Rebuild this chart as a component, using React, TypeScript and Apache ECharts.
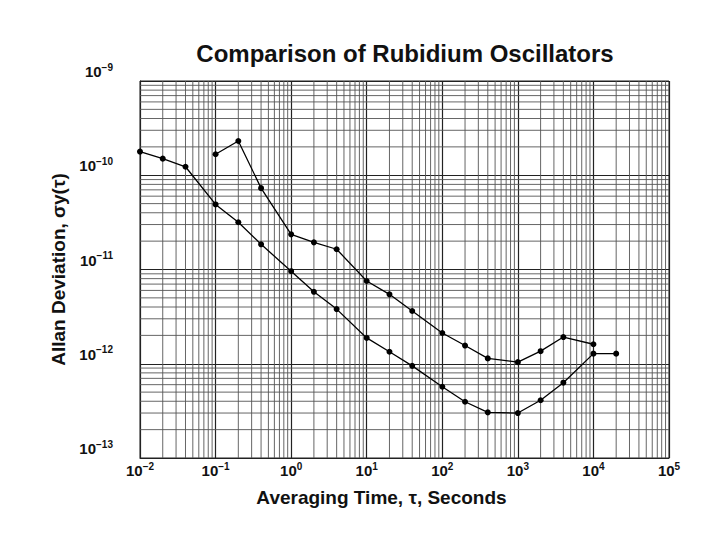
import { useEffect, useRef } from 'react';
import * as echarts from 'echarts';

// averaging time tau (s) and Allan deviation
const tauUpper = [0.1, 0.2, 0.4, 1, 2, 4, 10, 20, 40, 100, 200, 400, 1000, 2000, 4000, 10000];
const sigmaUpper = [
  1.67e-10, 2.31e-10, 7.3e-11, 2.36e-11, 1.94e-11, 1.64e-11, 7.55e-12, 5.45e-12,
  3.63e-12, 2.12e-12, 1.56e-12, 1.14e-12, 1.04e-12, 1.36e-12, 1.92e-12, 1.61e-12,
];
const tauLower = [
  0.01, 0.02, 0.04, 0.1, 0.2, 0.4, 1, 2, 4, 10, 20, 40, 100, 200, 400, 1000, 2000, 4000, 10000, 20000,
];
const sigmaLower = [
  1.78e-10, 1.5e-10, 1.23e-10, 4.9e-11, 3.17e-11, 1.85e-11, 9.6e-12, 5.8e-12, 3.8e-12, 1.88e-12,
  1.34e-12, 9.5e-13, 5.7e-13, 3.95e-13, 3.05e-13, 3.0e-13, 4.1e-13, 6.3e-13, 1.28e-12, 1.28e-12,
];

const X_MIN = 1e-2;
const X_MAX = 1e5;
const Y_MIN = 1e-13;
const Y_MAX = 1e-9;
const xDecades = [-2, -1, 0, 1, 2, 3, 4];
const yDecades = [-13, -12, -11, -10];
const minorSteps = [2, 3, 4, 5, 6, 7, 8, 9];

function powLabel(v: number) {
  const e = Math.round(Math.log10(v));
  return '{b|10}{s|' + String(e).replace('-', '−') + '}';
}

export default function App() {
  const chartRef = useRef<HTMLDivElement>(null);

  useEffect(() => {
    if (!chartRef.current) return;
    document.body.style.margin = '0';
    const chart = echarts.init(chartRef.current, null, { renderer: 'svg' });

    const font = '"Liberation Sans", Arial, sans-serif';

    // graph-paper lines at 2..9 of every decade: [orientation, value]
    const paper: [number, number][] = [];
    xDecades.forEach((d) => minorSteps.forEach((m) => paper.push([0, m * Math.pow(10, d)])));
    yDecades.forEach((d) => minorSteps.forEach((m) => paper.push([1, m * Math.pow(10, d)])));

    const rich = {
      b: { fontFamily: font, fontSize: 15, fontWeight: 'bold' as const, color: '#111' },
      s: {
        fontFamily: font,
        fontSize: 10,
        fontWeight: 'bold' as const,
        color: '#111',
        padding: [0, 0, 9, 0],
      },
    };

    const option: echarts.EChartsOption = {
      animation: false,
      backgroundColor: '#fff',
      title: {
        text: 'Comparison of Rubidium Oscillators',
        left: 400,
        top: 36,
        textAlign: 'center',
        textStyle: { fontFamily: font, fontSize: 24, fontWeight: 'bold', color: '#111' },
      },
      grid: {
        left: 140,
        right: 51,
        top: 81,
        bottom: 82,
        show: true,
        borderColor: '#222',
        borderWidth: 1,
      },
      xAxis: {
        type: 'log',
        logBase: 10,
        min: X_MIN,
        max: X_MAX,
        splitNumber: 7,
        name: 'Averaging Time, τ, Seconds',
        nameLocation: 'middle',
        nameGap: 30,
        nameTextStyle: {
          fontFamily: font,
          fontSize: 19,
          fontWeight: 'bold',
          color: '#111',
          padding: [0, 46, 0, 0],
        },
        axisLine: { lineStyle: { color: '#222' } },
        axisTick: { show: false },
        axisLabel: {
          formatter: (v: number) => powLabel(v),
          rich,
          margin: 3,
        },
        splitLine: { show: true, lineStyle: { color: '#222', width: 1.2 } },
      },
      yAxis: {
        type: 'log',
        logBase: 10,
        min: Y_MIN,
        max: Y_MAX,
        splitNumber: 4,
        name: 'Allan Deviation, σy(τ)',
        nameLocation: 'middle',
        nameGap: 70,
        nameTextStyle: { fontFamily: font, fontSize: 19, fontWeight: 'bold', color: '#111' },
        axisLine: { lineStyle: { color: '#222' } },
        axisTick: { show: false },
        axisLabel: {
          formatter: (v: number) => powLabel(v),
          rich,
          margin: 27,
          verticalAlign: 'bottom',
        },
        splitLine: { show: true, lineStyle: { color: '#222', width: 1.2 } },
      },
      series: [
        {
          type: 'custom',
          silent: true,
          z: 1,
          data: paper.map(([o, v]) => (o === 0 ? [v, Y_MIN, 0] : [X_MIN, v, 1])),
          renderItem: (params: any, api: any) => {
            const horizontal = api.value(2) === 1;
            const a = horizontal ? api.coord([X_MIN, api.value(1)]) : api.coord([api.value(0), Y_MIN]);
            const b = horizontal ? api.coord([X_MAX, api.value(1)]) : api.coord([api.value(0), Y_MAX]);
            return {
              type: 'line',
              shape: { x1: a[0], y1: a[1], x2: b[0], y2: b[1] },
              style: { stroke: '#555', lineWidth: 0.9 },
            };
          },
        },
        {
          type: 'line',
          data: tauUpper.map((t, i) => [t, sigmaUpper[i]]),
          symbol: 'circle',
          symbolSize: 6,
          itemStyle: { color: '#000' },
          lineStyle: { color: '#000', width: 1.3 },
          silent: true,
          z: 5,
        },
        {
          type: 'line',
          data: tauLower.map((t, i) => [t, sigmaLower[i]]),
          symbol: 'circle',
          symbolSize: 6,
          itemStyle: { color: '#000' },
          lineStyle: { color: '#000', width: 1.3 },
          silent: true,
          z: 5,
        },
      ],
    };

    chart.setOption(option);
    return () => {
      chart.dispose();
    };
  }, []);

  return <div ref={chartRef} style={{ width: 720, height: 540 }} />;
}
